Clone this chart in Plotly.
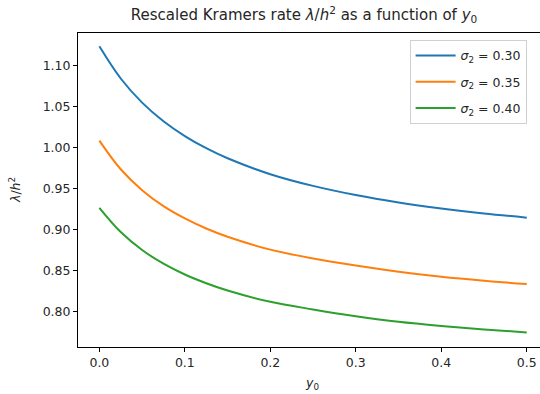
import plotly.graph_objects as go

# Starting position y0 and rescaled Kramers rate lambda/h^2 for three noise levels
y0 = [0.0, 0.025, 0.05, 0.075, 0.1, 0.125, 0.15, 0.2, 0.25, 0.3, 0.35, 0.4, 0.45, 0.5]
rate_s030 = [1.124, 1.0847, 1.0553, 1.0326, 1.0145, 0.9997, 0.9874, 0.968, 0.9537,
             0.9425, 0.9335, 0.9262, 0.9201, 0.915]
rate_s035 = [1.009, 0.974, 0.9485, 0.929, 0.914, 0.9017, 0.8916, 0.876, 0.8652,
             0.8565, 0.849, 0.8428, 0.838, 0.834]
rate_s040 = [0.927, 0.8974, 0.8755, 0.8588, 0.8456, 0.835, 0.8261, 0.8123, 0.803,
             0.7948, 0.7879, 0.7828, 0.7786, 0.775]

series_labels = ["<i>σ</i><sub>2</sub> = 0.30", "<i>σ</i><sub>2</sub> = 0.35",
                 "<i>σ</i><sub>2</sub> = 0.40"]
series_colors = ["#1f77b4", "#ff7f0e", "#2ca02c"]

x_ticks = [0.0, 0.1, 0.2, 0.3, 0.4, 0.5]
y_ticks = [0.80, 0.85, 0.90, 0.95, 1.00, 1.05, 1.10]

FONT = "DejaVu Sans"
TXT = "#262626"

fig = go.Figure()
for i, (vals, name, col) in enumerate(zip([rate_s030, rate_s035, rate_s040],
                                          series_labels, series_colors)):
    fig.add_trace(go.Scatter(
        x=y0, y=vals, mode="lines", name=name, legendgroup=f"g{i}",
        line=dict(color=col, width=2, shape="spline", smoothing=1.0),
    ))

axis_common = dict(
    showline=True, linecolor="black", linewidth=1,
    ticks="outside", ticklen=4, tickwidth=1, tickcolor="black",
    showgrid=False, zeroline=False,
    tickfont=dict(family=FONT, size=12.5, color=TXT),
)

fig.update_layout(
    width=540, height=394,
    margin=dict(l=78, r=0, t=33, b=47),
    paper_bgcolor="white", plot_bgcolor="white",
    font=dict(family=FONT, size=12.5, color=TXT),
    title=dict(
        text="Rescaled Kramers rate <i>λ</i>/<i>h</i><sup>2</sup> as a function of <i>y</i><sub>0</sub>",
        x=304 / 540, xref="container", xanchor="center",
        y=1 - 15 / 394, yref="container", yanchor="middle",
        font=dict(family=FONT, size=15, color=TXT),
    ),
    xaxis=dict(range=[-0.025, 0.5155], tickvals=x_ticks, tickformat=".1f",
               mirror=True, **axis_common),
    yaxis=dict(range=[0.7572, 1.1402], tickvals=y_ticks, tickformat=".2f",
               mirror=False, **axis_common),
    legend=dict(
        x=0.971, y=0.978, xanchor="right", yanchor="top",
        bgcolor="white", bordercolor="#d0d0d0", borderwidth=1,
        font=dict(family=FONT, size=12.5, color=TXT),
        tracegroupgap=7, itemwidth=40,
    ),
    showlegend=True,
)

# Axis labels
fig.add_annotation(text="<i>y</i><sub>0</sub>", xref="paper", yref="paper",
                   x=(311.7 - 78) / 462, y=-(383 - 347) / 314,
                   xanchor="center", yanchor="middle", showarrow=False,
                   font=dict(family=FONT, size=12.5, color=TXT))
fig.add_annotation(text="<i>λ</i>/<i>h</i><sup>2</sup>", xref="paper", yref="paper",
                   x=-(78 - 15) / 462, y=0.5, textangle=-90,
                   xanchor="center", yanchor="middle", showarrow=False,
                   font=dict(family=FONT, size=12.5, color=TXT))

fig.write_html("out.html")
